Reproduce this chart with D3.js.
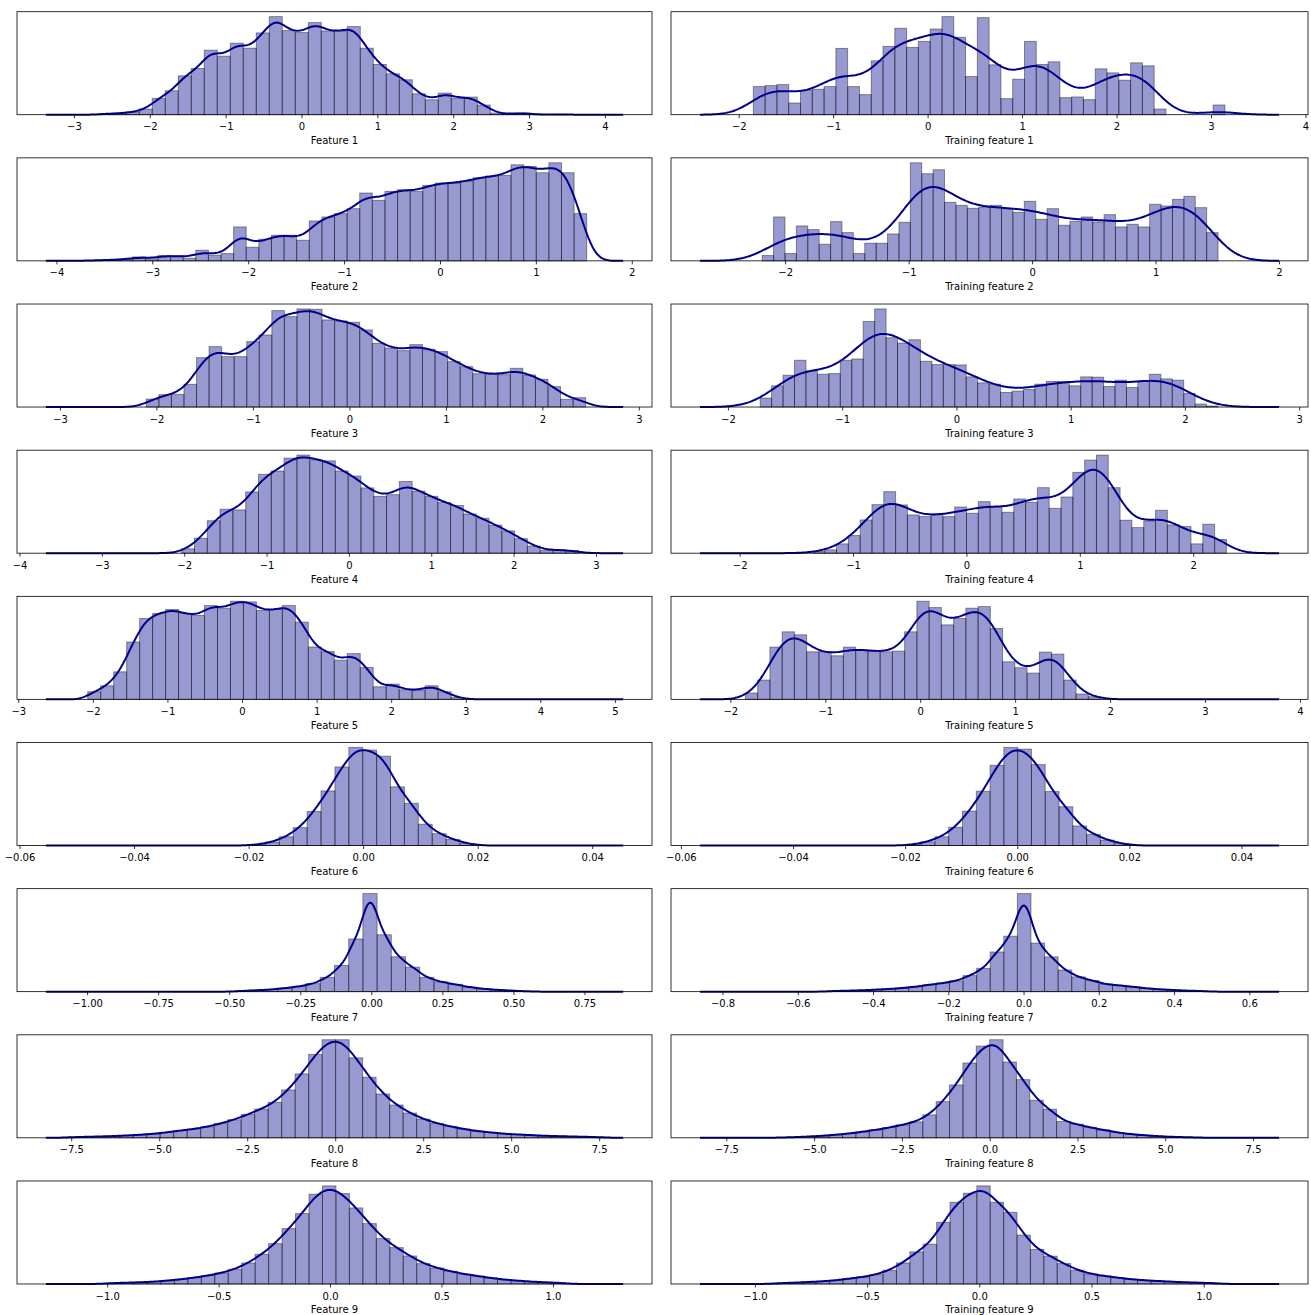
<!DOCTYPE html>
<html>
<head>
<meta charset="utf-8">
<script src="https://cdn.jsdelivr.net/npm/d3@7"></script>
<style>
  body { margin: 0; background: #fff; }
  text { font-family: "DejaVu Sans", sans-serif; }
</style>
</head>
<body>
<div id="chart"></div>
<script>
// Axis labels
const featureLabels = d3.range(1, 10).map(i => `Feature ${i}`)
const trainingLabels = d3.range(1, 10).map(i => `Training feature ${i}`)

// Histogram bar heights (relative density), left to right
const feature1 = [3, 4, 8, 17, 49, 72, 117, 139, 194, 176, 215, 200, 246, 295, 253, 247, 277, 252, 251, 265, 200, 151, 123, 105, 63, 45, 65, 50, 53, 29, 5, 2, 5, 1, 0, 1]
const feature2 = [1, 2, 3, 5, 12, 6, 16, 15, 8, 32, 17, 22, 102, 41, 65, 77, 77, 62, 120, 132, 142, 157, 204, 182, 209, 214, 209, 227, 234, 234, 240, 250, 255, 257, 289, 284, 265, 295, 265, 142]
const feature3 = [24, 37, 38, 68, 148, 181, 151, 151, 196, 216, 289, 271, 294, 293, 261, 258, 254, 231, 191, 177, 169, 187, 173, 166, 136, 121, 100, 99, 97, 116, 96, 83, 61, 23, 28]
const feature4 = [13, 44, 96, 130, 128, 181, 233, 243, 281, 290, 276, 273, 243, 228, 193, 168, 173, 212, 183, 168, 150, 141, 116, 103, 83, 66, 43, 21, 8, 10, 8]
const feature5 = [23, 41, 83, 173, 244, 259, 271, 259, 253, 283, 275, 296, 294, 268, 271, 283, 233, 158, 144, 118, 138, 96, 38, 46, 29, 28, 41, 23, 6]
const feature6 = [3, 10, 26, 53, 101, 162, 233, 291, 283, 265, 174, 125, 63, 35, 18, 6]
const feature7 = [2, 4, 6, 10, 15, 23, 41, 75, 151, 281, 163, 100, 70, 41, 28, 21, 13, 8, 5, 3, 1]
const feature8 = [2, 3, 4, 5, 7, 9, 12, 16, 22, 26, 33, 43, 54, 70, 86, 106, 143, 191, 249, 293, 293, 239, 181, 131, 98, 74, 56, 43, 34, 26, 20, 16, 12, 10, 8, 6, 5, 4, 3, 2]
const feature9 = [3, 4, 5, 7, 10, 14, 19, 25, 33, 44, 63, 89, 121, 166, 211, 269, 294, 271, 228, 181, 136, 109, 84, 61, 48, 38, 30, 24, 18, 13, 10, 7, 5, 4]

const training1 = [84, 87, 90, 35, 73, 76, 84, 198, 84, 60, 161, 204, 258, 201, 219, 256, 293, 231, 114, 290, 149, 48, 106, 219, 150, 158, 51, 53, 45, 137, 125, 103, 155, 146, 17, 0, 0, 0, 0, 29]
const training2 = [16, 132, 22, 105, 94, 50, 118, 85, 22, 53, 53, 81, 116, 295, 262, 274, 176, 167, 158, 162, 167, 157, 146, 179, 125, 157, 107, 119, 132, 117, 139, 102, 110, 102, 170, 165, 185, 194, 160, 85]
const training3 = [27, 64, 96, 141, 109, 99, 101, 141, 145, 258, 296, 209, 193, 203, 138, 128, 128, 127, 91, 73, 69, 44, 48, 53, 69, 77, 77, 64, 91, 90, 62, 81, 59, 79, 99, 85, 81, 41, 9, 3]
const training4 = [5, 10, 28, 53, 100, 146, 185, 145, 115, 110, 118, 110, 139, 120, 155, 140, 123, 163, 153, 197, 135, 169, 243, 280, 295, 197, 99, 77, 97, 129, 85, 80, 28, 87, 41]
const training5 = [19, 58, 157, 203, 194, 143, 143, 131, 157, 148, 145, 143, 145, 203, 295, 276, 224, 243, 274, 279, 213, 113, 95, 79, 142, 136, 58, 16, 8]
const training6 = [3, 11, 26, 54, 102, 161, 238, 291, 286, 240, 160, 115, 58, 33, 16, 6]
const training7 = [2, 3, 4, 6, 8, 11, 15, 21, 26, 33, 49, 71, 121, 169, 299, 148, 106, 66, 45, 34, 23, 19, 15, 10, 7, 5, 3, 2]
const training8 = [1, 2, 4, 6, 9, 13, 18, 24, 31, 39, 48, 69, 109, 159, 225, 276, 295, 228, 175, 113, 86, 49, 41, 31, 24, 16, 11, 8, 5, 3, 2, 1]
const training9 = [3, 4, 6, 8, 11, 16, 21, 28, 41, 63, 96, 119, 184, 244, 271, 293, 244, 214, 146, 103, 83, 61, 41, 30, 24, 19, 14, 11, 9, 7, 5, 4, 3]

// Left edge of the first bin and bin width
const featureBinStart = [-2.653, -3.730, -2.105, -2.031, -2.069, -0.01949, -0.4796, -7.658, -1.0004]
const featureBinWidth = [0.1714, 0.1315, 0.1301, 0.1555, 0.174, 0.002427, 0.05, 0.3835, 0.0604]
const trainingBinStart = [-1.845, -2.186, -1.718, -1.354, -1.841, -0.01961, -0.5218, -6.096, -0.9065]
const trainingBinWidth = [0.1248, 0.0923, 0.1002, 0.1042, 0.129, 0.00246, 0.0361, 0.381, 0.0597]

// Extent of the density curve and its kernel bandwidth
const featureKdeRange = [[-3.37, 4.24], [-4.11, 1.91], [-3.146, 2.837], [-3.68, 3.33], [-2.63, 5.11], [-0.0554, 0.0454], [-1.145, 0.886], [-8.22, 8.18], [-1.275, 1.315]]
const featureBandwidth = [0.1, 0.1, 0.11, 0.12, 0.1, 0.0015, 0.02, 0.25, 0.04]
const trainingKdeRange = [[-2.41, 3.72], [-2.69, 2.0], [-2.245, 2.824], [-2.35, 2.757], [-2.32, 3.78], [-0.0566, 0.0467], [-0.86, 0.679], [-8.25, 8.24], [-1.245, 1.336]]
const trainingBandwidth = [0.19, 0.165, 0.177, 0.13, 0.12, 0.0016, 0.016, 0.25, 0.04]

// Tick values and formats
const featureTicks = [
  [-3, -2, -1, 0, 1, 2, 3, 4],
  [-4, -3, -2, -1, 0, 1, 2],
  [-3, -2, -1, 0, 1, 2, 3],
  [-4, -3, -2, -1, 0, 1, 2, 3],
  [-3, -2, -1, 0, 1, 2, 3, 4, 5],
  [-0.06, -0.04, -0.02, 0, 0.02, 0.04],
  [-1, -0.75, -0.5, -0.25, 0, 0.25, 0.5, 0.75],
  [-7.5, -5, -2.5, 0, 2.5, 5, 7.5],
  [-1, -0.5, 0, 0.5, 1]
]
const trainingTicks = [
  [-2, -1, 0, 1, 2, 3, 4],
  [-2, -1, 0, 1, 2],
  [-2, -1, 0, 1, 2, 3],
  [-2, -1, 0, 1, 2],
  [-2, -1, 0, 1, 2, 3, 4],
  [-0.06, -0.04, -0.02, 0, 0.02, 0.04],
  [-0.8, -0.6, -0.4, -0.2, 0, 0.2, 0.4, 0.6],
  [-7.5, -5, -2.5, 0, 2.5, 5, 7.5],
  [-1, -0.5, 0, 0.5, 1]
]
const featureTickFormat = ['d', 'd', 'd', 'd', 'd', '.2f', '.2f', '.1f', '.1f']
const trainingTickFormat = ['d', 'd', 'd', 'd', 'd', '.2f', '.1f', '.1f', '.1f']

const featureCounts = [feature1, feature2, feature3, feature4, feature5, feature6, feature7, feature8, feature9]
const trainingCounts = [training1, training2, training3, training4, training5, training6, training7, training8, training9]

// Layout
const width = 1311, height = 1315
const columns = [{ x0: 17, x1: 652 }, { x0: 671, x1: 1308 }]
const rowTop = 11.7, rowStep = 146.16, axH = 103
const barColor = '#00008b'

// Normal CDF (for smoothing each bin with a Gaussian kernel)
function erf(x) {
  const s = Math.sign(x)
  x = Math.abs(x)
  const t = 1 / (1 + 0.3275911 * x)
  const y = 1 - (((((1.061405429 * t - 1.453152027) * t) + 1.421413741) * t - 0.284496736) * t + 0.254829592) * t * Math.exp(-x * x)
  return s * y
}
const phi = z => 0.5 * (1 + erf(z / Math.SQRT2))

const panels = []
for (let i = 0; i < 9; i++) {
  panels.push({ col: 0, row: i, label: featureLabels[i], counts: featureCounts[i], start: featureBinStart[i], binW: featureBinWidth[i], range: featureKdeRange[i], bw: featureBandwidth[i], ticks: featureTicks[i], fmt: featureTickFormat[i] })
  panels.push({ col: 1, row: i, label: trainingLabels[i], counts: trainingCounts[i], start: trainingBinStart[i], binW: trainingBinWidth[i], range: trainingKdeRange[i], bw: trainingBandwidth[i], ticks: trainingTicks[i], fmt: trainingTickFormat[i] })
}

const svg = d3.select('#chart')
  .append('svg')
  .attr('width', width)
  .attr('height', height)
  .attr('viewBox', [0, 0, width, height])

panels.forEach(p => {
  const col = columns[p.col]
  const w = col.x1 - col.x0
  const g = svg.append('g')
    .attr('transform', `translate(${col.x0},${rowTop + p.row * rowStep})`)

  const bins = p.counts.map((c, i) => ({ a: p.start + i * p.binW, b: p.start + (i + 1) * p.binW, h: c }))

  // density curve: histogram convolved with a Gaussian kernel
  const [lo, hi] = p.range
  const kde = d3.range(0, 401).map(k => {
    const xv = lo + (hi - lo) * k / 400
    const yv = d3.sum(bins, d => d.h * (phi((xv - d.a) / p.bw) - phi((xv - d.b) / p.bw)))
    return [xv, yv]
  })

  const pad = (hi - lo) * 0.05
  const x = d3.scaleLinear().domain([lo - pad, hi + pad]).range([0, w])
  const yMax = Math.max(d3.max(bins, d => d.h), d3.max(kde, d => d[1])) * 1.05
  const y = d3.scaleLinear().domain([0, yMax]).range([axH, 0])

  // bars
  g.append('g')
    .selectAll('rect')
    .data(bins.filter(d => d.h > 0))
    .join('rect')
    .attr('x', d => x(d.a))
    .attr('y', d => y(d.h))
    .attr('width', d => x(d.b) - x(d.a))
    .attr('height', d => axH - y(d.h))
    .attr('fill', barColor)
    .attr('fill-opacity', 0.4)
    .attr('stroke', '#000')
    .attr('stroke-opacity', 0.4)
    .attr('stroke-width', 1)

  // density line
  g.append('path')
    .datum(kde)
    .attr('fill', 'none')
    .attr('stroke', barColor)
    .attr('stroke-width', 2)
    .attr('stroke-linejoin', 'round')
    .attr('d', d3.line().x(d => x(d[0])).y(d => y(d[1])))

  // frame
  g.append('rect')
    .attr('width', w)
    .attr('height', axH)
    .attr('fill', 'none')
    .attr('stroke', '#000')
    .attr('stroke-width', 0.8)

  // x axis
  g.append('g')
    .attr('transform', `translate(0,${axH})`)
    .call(d3.axisBottom(x).tickValues(p.ticks).tickFormat(d3.format(p.fmt)).tickSize(3.5).tickPadding(5))
    .call(a => a.select('.domain').remove())
    .call(a => a.selectAll('.tick line').attr('stroke', '#000').attr('stroke-width', 0.8))
    .call(a => a.selectAll('.tick text').attr('font-size', 10).attr('fill', '#000').attr('font-family', '"DejaVu Sans", sans-serif'))

  g.append('text')
    .attr('x', w / 2)
    .attr('y', axH + 29.5)
    .attr('text-anchor', 'middle')
    .attr('font-size', 10)
    .attr('fill', '#000')
    .text(p.label)
})
</script>
</body>
</html>
